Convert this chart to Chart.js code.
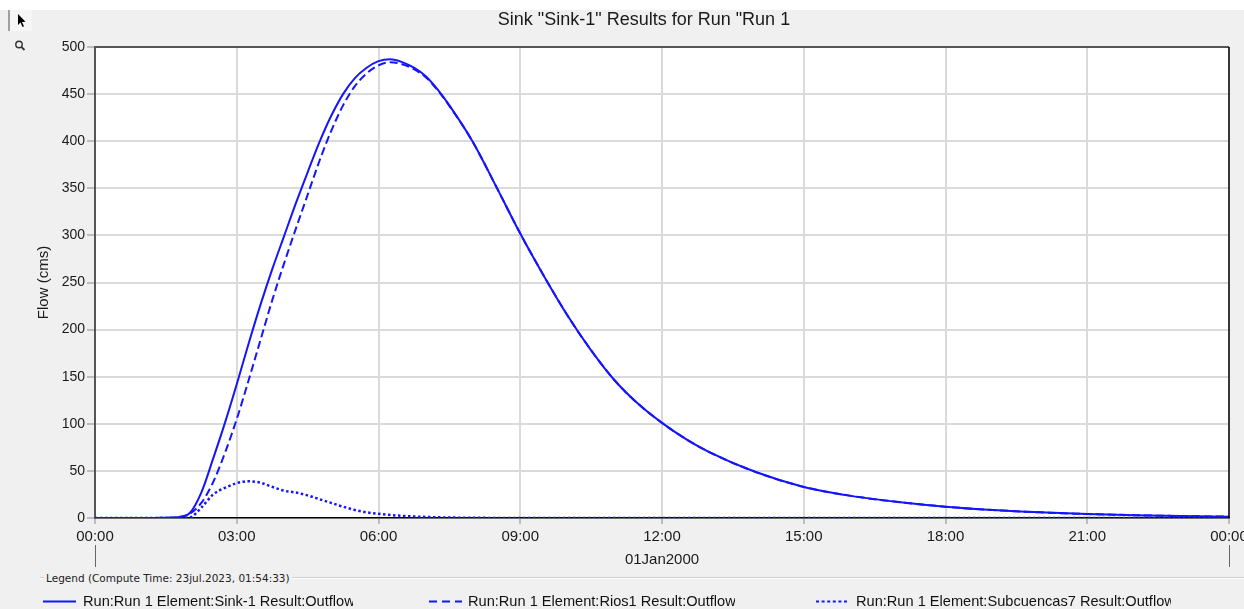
<!DOCTYPE html>
<html>
<head>
<meta charset="utf-8">
<script src="https://cdn.jsdelivr.net/npm/chart.js@4"></script>
<style>
  html, body { margin: 0; padding: 0; }
  body { width: 1244px; height: 609px; overflow: hidden; font-family: "Liberation Sans", Arial, sans-serif; }
  #wrap { position: relative; width: 1244px; height: 609px;
          background: linear-gradient(#ffffff 0px, #ffffff 10px, #f0f0f0 10px, #f0f0f0 100%); }
  #c { position: absolute; left: 0; top: 0; }
  #tool { position: absolute; left: 8px; top: 10px; width: 22px; height: 21px; background: #f6f6f6; border-left: 2px solid #a0a0a0; }
  #mag { position: absolute; left: 13px; top: 39px; }
  #grp { position: absolute; left: 40px; top: 577px; width: 1204px; height: 0; border-top: 1px solid #cfcfcf; border-bottom: 1px solid #ffffff; }
  #lgTitle { position: absolute; left: 44px; top: 571px; padding: 0 2px; background: #f0f0f0; font-family: "DejaVu Sans", Tahoma, sans-serif; font-size: 10.5px; color: #222; white-space: nowrap; line-height: 14px; }
  .item { position: absolute; top: 592px; height: 18px; white-space: nowrap; font-size: 14.6px; color: #111; line-height: 18px; }
  .item svg { position: absolute; left: 0; top: 0; }
  .item span { position: absolute; top: 0; overflow: hidden; white-space: nowrap; }
</style>
</head>
<body>
<div id="wrap">
  <canvas id="c" width="1244" height="609"></canvas>
  <div id="tool">
    <svg width="22" height="21" viewBox="0 0 22 21"><path d="M8 4 L8 15 L10.5 12.5 L12.5 17 L14 16.3 L12 12 L15.5 11.8 Z" fill="#000"/></svg>
  </div>
  <div id="mag">
    <svg width="14" height="14" viewBox="0 0 14 14"><circle cx="6" cy="5.5" r="3.2" fill="none" stroke="#333" stroke-width="1.4"/><line x1="8.3" y1="7.9" x2="11.5" y2="11" stroke="#333" stroke-width="1.8"/></svg>
  </div>
  <div id="grp"></div>
  <div id="lgTitle"></div>
  <div id="legend"></div>
</div>
<script>
// ---- data (hours since 01Jan2000 00:00, flow in cms) ----
const times = [0, 1, 1.5, 1.75, 2, 2.25, 2.5, 2.75, 3, 3.25, 3.5, 3.75, 4, 4.25, 4.5, 4.75, 5, 5.25, 5.5, 5.75, 6, 6.25, 6.5, 6.75, 7, 7.25, 7.5, 8, 8.5, 9, 9.5, 10, 10.5, 11, 11.5, 12, 12.5, 13, 14, 15, 16, 17, 18, 19, 20, 21, 22, 23, 24];
const sinkOutflow = [0, 0, 0.2, 0.8, 5, 27, 63, 101, 142, 185, 226, 264, 299, 334, 367, 399, 427, 450, 467, 478, 485, 487, 484, 478, 469, 455, 438, 399, 351, 302, 257, 215, 178, 146, 121, 101, 84, 70, 48.5, 33, 23.5, 17, 12, 8.5, 6, 4.2, 3, 2, 1.4];
const riosOutflow = [0, 0, 0.2, 0.8, 4.5, 16, 38, 69, 105, 146, 188.5, 231, 270, 307, 343, 379, 411, 438, 458.5, 472, 480.5, 483.8, 481.7, 476.4, 467.9, 454.2, 437.5, 398.8, 350.9, 302, 257, 215, 178, 146, 121, 101, 84, 70, 48.5, 33, 23.5, 17, 12, 8.5, 6, 4.2, 3, 2, 1.4];
const subOutflow = [0, 0, 0, 0, 0.5, 11, 25, 32, 37, 39, 37.5, 33, 29, 27, 24, 20, 16, 12, 8.5, 6, 4.5, 3.2, 2.3, 1.6, 1.1, 0.8, 0.5, 0.2, 0.1, 0, 0, 0, 0, 0, 0, 0, 0, 0, 0, 0, 0, 0, 0, 0, 0, 0, 0, 0, 0];
const seriesLabels = ["Run:Run 1 Element:Sink-1 Result:Outflow", "Run:Run 1 Element:Rios1 Result:Outflow", "Run:Run 1 Element:Subcuencas7 Result:Outflow"];
const xTickHours = [0, 3, 6, 9, 12, 15, 18, 21, 24];
const yTicks = [0, 50, 100, 150, 200, 250, 300, 350, 400, 450, 500];
const chartTitle = 'Sink "Sink-1" Results for Run "Run 1';
const yTitle = 'Flow (cms)';
const dateLabel = '01Jan2000';
const legendTitle = 'Legend (Compute Time: 23jul.2023, 01:54:33)';

const BLUE = '#1414ff';
const FONT = '"Liberation Sans", Arial, sans-serif';
const dashes = [[], [8, 4], [2.5, 2.5]];
const widths = [2, 2, 2.5];
const seriesValues = [sinkOutflow, riosOutflow, subOutflow];

const toPts = arr => times.map((t, i) => ({ x: t, y: arr[i] }));

const framePlugin = {
  id: 'frame',
  beforeDraw(chart) {
    const { ctx, chartArea: a } = chart;
    ctx.save();
    ctx.fillStyle = '#ffffff';
    ctx.fillRect(a.left, a.top, a.right - a.left, a.bottom - a.top);
    ctx.restore();
  },
  afterDraw(chart) {
    const { ctx, chartArea: a, scales } = chart;
    ctx.save();
    ctx.strokeStyle = '#555555'; ctx.lineWidth = 2;
    ctx.beginPath(); ctx.moveTo(a.left, a.top); ctx.lineTo(a.right, a.top); ctx.stroke();
    ctx.strokeStyle = '#000000'; ctx.lineWidth = 1.5;
    ctx.beginPath(); ctx.moveTo(a.right, a.top); ctx.lineTo(a.right, a.bottom); ctx.stroke();
    ctx.strokeStyle = '#666666'; ctx.lineWidth = 1;
    [0, 24].forEach(h => {
      const px = Math.round(scales.x.getPixelForValue(h)) + 0.5;
      ctx.beginPath(); ctx.moveTo(px, 545); ctx.lineTo(px, 567); ctx.stroke();
    });
    ctx.fillStyle = '#1a1a1a';
    ctx.font = '18px ' + FONT;
    ctx.textAlign = 'center'; ctx.textBaseline = 'middle';
    ctx.fillText(chartTitle, 644, 20.5);
    ctx.restore();
  }
};

new Chart(document.getElementById('c'), {
  type: 'line',
  data: {
    datasets: seriesValues.map((vals, i) => ({
      label: seriesLabels[i],
      data: toPts(vals),
      borderColor: BLUE,
      backgroundColor: BLUE,
      borderWidth: widths[i],
      borderDash: dashes[i],
      pointRadius: 0,
      cubicInterpolationMode: 'monotone',
      fill: false
    }))
  },
  options: {
    responsive: false,
    animation: false,
    devicePixelRatio: 1,
    layout: { padding: { top: 47, right: 15, left: 0, bottom: 0 } },
    plugins: { legend: { display: false }, title: { display: false }, tooltip: { enabled: false } },
    scales: {
      x: {
        type: 'linear', min: 0, max: 24,
        afterBuildTicks: s => { s.ticks = xTickHours.map(v => ({ value: v })); },
        afterFit: s => { s.height = 91; s.paddingLeft = 0; s.paddingRight = 0; },
        ticks: {
          maxRotation: 0, autoSkip: false, padding: 4, color: '#1a1a1a',
          font: { size: 15, family: FONT },
          callback: v => String(v % 24).padStart(2, '0') + ':00'
        },
        grid: { color: '#dadada', lineWidth: 2, tickLength: 6, tickColor: '#8a8a8a', tickWidth: 1 },
        border: { color: '#000000', width: 1.5 },
        title: { display: true, text: dateLabel, color: '#1a1a1a', font: { size: 15, family: FONT }, padding: { top: 0, bottom: 40 } }
      },
      y: {
        min: 0, max: 500,
        afterBuildTicks: s => { s.ticks = yTicks.map(v => ({ value: v })); },
        afterFit: s => { s.width = 95; },
        ticks: { padding: 2, color: '#1a1a1a', font: { size: 14, family: FONT } },
        grid: { color: '#dadada', lineWidth: 2, tickLength: 8, tickColor: '#8a8a8a', tickWidth: 1 },
        border: { color: '#555555', width: 2 },
        title: { display: true, text: yTitle, color: '#1a1a1a', font: { size: 15, family: FONT }, padding: { top: 35, bottom: 0 } }
      }
    }
  },
  plugins: [framePlugin]
});

// ---- legend (HTML) ----
document.getElementById('lgTitle').textContent = legendTitle;
const itemPos = [{ left: 42, text: 83, w: 270 }, { left: 428, text: 468, w: 267 }, { left: 815, text: 856, w: 315 }];
const lg = document.getElementById('legend');
seriesLabels.forEach((lab, i) => {
  const p = itemPos[i];
  const d = document.createElement('div');
  d.className = 'item';
  d.style.left = p.left + 'px';
  const dash = i === 0 ? '' : (i === 1 ? 'stroke-dasharray="8 5"' : 'stroke-dasharray="3 2.6"');
  d.innerHTML = '<svg width="36" height="18"><line x1="1" y1="9.5" x2="34" y2="9.5" stroke="' + BLUE + '" stroke-width="2" ' + dash + '/></svg>';
  const s = document.createElement('span');
  s.style.left = (p.text - p.left) + 'px';
  s.style.width = p.w + 'px';
  s.textContent = lab;
  d.appendChild(s);
  lg.appendChild(d);
});
</script>
</body>
</html>
